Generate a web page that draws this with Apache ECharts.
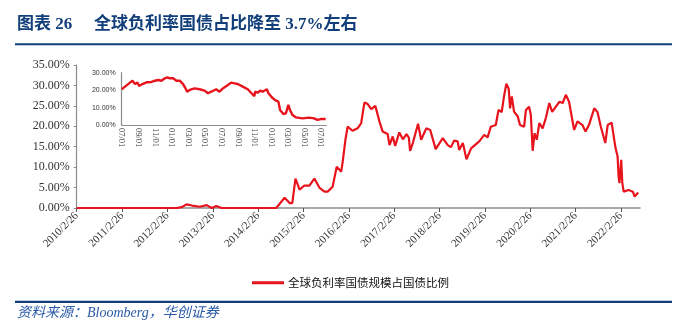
<!DOCTYPE html>
<html>
<head>
<meta charset="utf-8">
<script src="https://cdn.jsdelivr.net/npm/echarts@6/dist/echarts.min.js"></script>
<style>
  html, body { margin: 0; padding: 0; background: #fff; }
  #chart { width: 678px; height: 336px; }
</style>
</head>
<body>
<div id="chart"></div>
<script>
// Share of negative-yielding debt in global government bonds (%)
const seriesName = '全球负利率国债规模占国债比例';

const mainDates = [
  '2010-02-26','2012-05-10','2012-06-20','2012-07-29','2012-09-12','2012-11-14','2013-01-08','2013-02-17',
  '2013-03-27','2013-05-07','2014-07-22','2014-09-27','2014-11-07','2014-11-28','2014-12-24','2015-01-26',
  '2015-03-06','2015-04-15','2015-04-29','2015-05-25','2015-07-04','2015-08-14','2015-09-09','2015-09-24',
  '2015-10-19','2015-11-21','2015-12-27','2016-01-08','2016-01-30','2016-02-17','2016-03-27','2016-05-07',
  '2016-06-05','2016-07-01','2016-07-26','2016-08-25','2016-09-27','2016-10-30','2016-11-25','2017-01-04',
  '2017-01-19','2017-02-14','2017-03-06','2017-04-08','2017-05-07','2017-06-05','2017-06-24','2017-07-04',
  '2017-07-26','2017-09-06','2017-10-01','2017-11-11','2017-12-13','2018-01-26','2018-03-24','2018-05-03',
  '2018-05-29','2018-06-24','2018-07-22','2018-08-03','2018-09-02','2018-10-01','2018-11-07','2019-01-12',
  '2019-02-21','2019-03-20','2019-04-15','2019-05-25','2019-06-16','2019-07-12','2019-07-30','2019-08-18',
  '2019-09-06','2019-09-17','2019-10-01','2019-10-19','2019-11-18','2019-12-06','2020-01-08','2020-01-23',
  '2020-02-17','2020-03-02','2020-03-17','2020-04-01','2020-04-19','2020-05-10','2020-06-05','2020-07-01',
  '2020-07-29','2020-08-21','2020-09-20','2020-10-19','2020-11-14','2020-12-09','2021-01-04','2021-02-14',
  '2021-03-13','2021-04-22','2021-05-17','2021-06-13','2021-07-26','2021-08-21','2021-09-17','2021-10-23',
  '2021-11-11','2021-12-13','2022-01-12','2022-01-30','2022-02-07','2022-02-14','2022-02-28','2022-03-09',
  '2022-03-20','2022-04-29','2022-06-02','2022-06-16','2022-07-15'
];
const mainValues = [
  0, 0, 0.2, 0.9, 0.6, 0.3, 0.7, 0,
  0.5, 0, 0, 2.5, 1.2, 1.2, 7.2, 4.5,
  5.5, 5.5, 5.1, 7.2, 5.0, 4.0, 4.0, 4.4,
  5.2, 10.1, 8.9, 11.3, 16.7, 19.9, 18.9, 19.5,
  20.8, 25.8, 25.5, 24.2, 25.0, 21.2, 18.7, 18.1,
  15.4, 17.5, 15.2, 18.5, 16.8, 18.1, 17.2, 14.0,
  15.9, 20.6, 16.7, 19.5, 19.1, 14.4, 17.1, 15.4,
  14.9, 16.5, 16.3, 14.2, 15.9, 11.9, 14.6, 16.3,
  17.9, 17.3, 19.9, 20.3, 24.0, 23.5, 27.3, 30.4,
  29.2, 24.4, 27.3, 23.6, 22.4, 20.3, 19.9, 24.0,
  24.8, 22.9, 14.0, 18.3, 16.7, 20.8, 19.5, 22.0,
  25.7, 23.5, 24.8, 26.0, 25.7, 27.7, 26.0, 19.1,
  21.2, 20.3, 18.7, 20.3, 24.4, 23.5, 19.9, 15.9,
  20.3, 20.9, 14.9, 12.6, 7.7, 6.1, 11.8, 6.1,
  4.0, 4.4, 4.0, 2.8, 3.8
];

// Last two years, shown in the small panel
const insetDates = [
  '2020-07-01','2020-07-13','2020-08-01','2020-08-10','2020-08-19','2020-08-28','2020-09-04','2020-09-16',
  '2020-10-01','2020-10-19','2020-11-01','2020-11-13','2020-11-25','2020-12-07','2020-12-16','2020-12-25',
  '2021-01-07','2021-01-19','2021-02-01','2021-02-13','2021-02-22','2021-02-28','2021-03-07','2021-03-25',
  '2021-04-13','2021-05-01','2021-05-13','2021-05-25','2021-06-13','2021-06-25','2021-07-07','2021-07-25',
  '2021-08-07','2021-08-19','2021-09-01','2021-09-19','2021-10-07','2021-10-19','2021-11-01','2021-11-04',
  '2021-11-13','2021-11-22','2021-12-01','2021-12-16','2021-12-22','2022-01-04','2022-01-16','2022-01-28',
  '2022-02-04','2022-02-16','2022-02-25','2022-03-04','2022-03-10','2022-03-19','2022-04-01','2022-04-25',
  '2022-05-19','2022-06-07','2022-06-19','2022-07-01','2022-07-19'
];
const insetValues = [
  20.5, 22.0, 24.3, 25.4, 23.5, 24.3, 22.4, 23.5,
  24.5, 24.7, 25.4, 25.8, 25.4, 26.8, 27.3, 26.8,
  26.8, 25.4, 25.4, 23.5, 21.0, 19.1, 20.1, 21.0,
  20.5, 19.7, 18.2, 19.1, 20.5, 19.1, 21.0, 22.9,
  24.3, 23.9, 23.5, 22.0, 20.5, 18.5, 16.6, 19.1,
  18.5, 19.7, 19.1, 20.5, 18.2, 15.9, 14.3, 13.4,
  8.6, 6.3, 6.7, 11.5, 8.6, 5.7, 4.4, 3.8,
  4.2, 3.8, 2.9, 3.4, 3.4
];

const xTickLabels = [
  '2010/2/26','2011/2/26','2012/2/26','2013/2/26','2014/2/26','2015/2/26','2016/2/26',
  '2017/2/26','2018/2/26','2019/2/26','2020/2/26','2021/2/26','2022/2/26'
];
const insetTickLabels = [
  '07/01','09/01','11/01','01/01','03/01','05/01','07/01','09/01','11/01','01/01','03/01','05/01','07/01'
];

// main axis counts years from 2010-02-26, the small panel counts months from 2020-07-01
const DAY = 86400000;
const t0 = Date.UTC(2010, 1, 26);
const toYears = d => (Date.parse(d) - t0) / (365.25 * DAY);
const toMonths = d => {
  const [y, m, dd] = d.split('-').map(Number);
  return (y - 2020) * 12 + (m - 7) + (dd - 1) / 30;
};

const mainData = mainDates.map((d, i) => [toYears(d), mainValues[i]]);
const insetData = insetDates.map((d, i) => [toMonths(d), insetValues[i]]);
const yearTicks = xTickLabels.map((_, i) => i);
const monthTicks = insetTickLabels.map((_, i) => i * 2);

const red = '#e8141d';
const navy = '#123f7a';
const serif = '"Liberation Serif", "Times New Roman", serif';
const cjk = '"Noto Sans CJK SC", sans-serif';

const chart = echarts.init(document.getElementById('chart'));
chart.setOption({
  animation: false,
  backgroundColor: '#fff',
  grid: [
    { left: 76.7, top: 65, right: 38, bottom: 128 },
    { left: 121.7, top: 72.7, right: 351.5, bottom: 211 }
  ],
  xAxis: [
    {
      type: 'value', gridIndex: 0, min: 0, max: 12.42, interval: 1,
      splitLine: { show: false },
      axisLine: { lineStyle: { color: '#8c8c8c', width: 1.5 } },
      axisTick: { customValues: yearTicks, length: 4, lineStyle: { color: '#555' } },
      axisLabel: {
        customValues: yearTicks, rotate: 45, margin: 6,
        color: '#333', fontFamily: serif, fontSize: 11,
        formatter: v => xTickLabels[Math.round(v)]
      }
    },
    {
      type: 'value', gridIndex: 1, min: 0, max: 24.7, interval: 2,
      splitLine: { show: false },
      axisLine: { lineStyle: { color: '#8c8c8c', width: 1.2 } },
      axisTick: { show: false },
      axisLabel: {
        customValues: monthTicks, rotate: -90, margin: 3,
        color: '#333', fontFamily: serif, fontSize: 8.5,
        formatter: v => insetTickLabels[Math.round(v / 2)]
      }
    }
  ],
  yAxis: [
    {
      type: 'value', gridIndex: 0, min: 0, max: 35, interval: 5,
      splitLine: { show: false },
      axisLine: { show: true, lineStyle: { color: '#8c8c8c', width: 1.2 } },
      axisTick: { show: true, length: 3, lineStyle: { color: '#8c8c8c' } },
      axisLabel: {
        margin: 7, color: '#333', fontFamily: serif, fontSize: 12,
        formatter: v => v.toFixed(2) + '%'
      }
    },
    {
      type: 'value', gridIndex: 1, min: 0, max: 30, interval: 10,
      splitLine: { show: false },
      axisLine: { show: true, lineStyle: { color: '#8c8c8c', width: 1.2 } },
      axisTick: { show: false },
      axisLabel: {
        margin: 6, color: '#333', fontFamily: '"Liberation Sans", Arial, sans-serif', fontSize: 7,
        formatter: v => v.toFixed(2) + '%'
      }
    }
  ],
  legend: {
    left: 247, top: 272,
    itemWidth: 32, itemHeight: 3, itemGap: 10,
    data: [{ name: seriesName, icon: 'rect' }],
    textStyle: { fontFamily: cjk, fontSize: 11.5, color: '#111', padding: [0, 0, 0, -1] }
  },
  series: [
    {
      name: seriesName, type: 'line', xAxisIndex: 0, yAxisIndex: 0,
      data: mainData, showSymbol: false, symbol: 'none',
      lineStyle: { color: red, width: 2.2 }, itemStyle: { color: red }
    },
    {
      name: '近两年', type: 'line', xAxisIndex: 1, yAxisIndex: 1,
      data: insetData, showSymbol: false, symbol: 'none',
      lineStyle: { color: red, width: 2.4 }, itemStyle: { color: red }
    }
  ],
  graphic: [
    {
      type: 'text', left: 17, top: 16,
      style: { text: '图表 26', font: 'bold 17px ' + serif + ', ' + cjk, fill: navy }
    },
    {
      type: 'text', left: 94, top: 16,
      style: { text: '全球负利率国债占比降至 3.7%左右', font: 'bold 17px ' + serif + ', ' + cjk, fill: navy }
    },
    {
      type: 'rect', shape: { x: 15, y: 43.3, width: 657, height: 2 },
      style: { fill: navy }
    },
    {
      type: 'rect', shape: { x: 15, y: 300.7, width: 657, height: 2.4 },
      style: { fill: navy }
    },
    {
      type: 'text', left: 17, top: 306,
      style: { text: '资料来源：Bloomberg，华创证券', font: 'italic 14px ' + serif + ', ' + cjk, fill: '#2a5aa8' }
    }
  ]
});
</script>
</body>
</html>
